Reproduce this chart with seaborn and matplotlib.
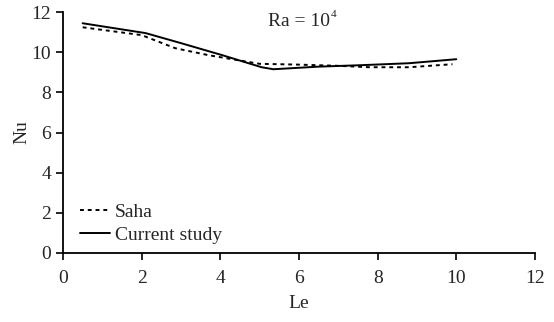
import numpy as np
import pandas as pd
import matplotlib
matplotlib.use("Agg")
import matplotlib.pyplot as plt
import seaborn as sns

# Nusselt number against Lewis number at Ra = 1e4
le_saha = [0.5, 2.0, 2.85, 3.7, 4.45, 5.0, 6.0, 7.0, 7.8, 8.8, 9.9]
nu_saha = [11.24, 10.85, 10.2, 9.85, 9.6, 9.42, 9.38, 9.32, 9.25, 9.25, 9.4]

le_curr = [0.5, 2.1, 3.0, 4.05, 5.05, 5.35, 6.5, 7.55, 8.8, 10.0]
nu_curr = [11.44, 10.95, 10.45, 9.85, 9.25, 9.15, 9.28, 9.35, 9.45, 9.65]

series_names = ["Saha", "Current study"]

df = pd.concat([
    pd.DataFrame({"Le": le_saha, "Nu": nu_saha, "series": series_names[0]}),
    pd.DataFrame({"Le": le_curr, "Nu": nu_curr, "series": series_names[1]}),
], ignore_index=True)

sns.set_theme(style="ticks")
plt.rcParams["font.family"] = ["Liberation Serif", "DejaVu Serif"]

fig = plt.figure(figsize=(5.54, 3.22), dpi=100)
ax = fig.add_axes([0.1137, 0.2143, 0.852, 0.7484])

sns.lineplot(
    data=df, x="Le", y="Nu", hue="series", style="series",
    palette={series_names[0]: "black", series_names[1]: "black"},
    dashes={series_names[0]: (2, 2), series_names[1]: ""},
    linewidth=1.4, sort=False, estimator=None, ax=ax,
)

ax.set_xlim(0, 12)
ax.set_ylim(0, 12)
ax.set_xticks(np.arange(0, 13, 2))
ax.set_yticks(np.arange(0, 13, 2))
ax.tick_params(axis="both", labelsize=14, length=5, width=1.2, direction="out", color="black")
ax.tick_params(axis="x", pad=7)
for s in ["top", "right"]:
    ax.spines[s].set_visible(False)
for s in ["left", "bottom"]:
    ax.spines[s].set_color("black")
    ax.spines[s].set_linewidth(1.3)

ax.set_xlabel("Le", fontsize=14, labelpad=6)
ax.set_ylabel("Nu", fontsize=14, labelpad=1)

ra = ax.text(5.2, 11.55, "Ra = 10", fontsize=14, ha="left", va="center")
fig.canvas.draw()
bb = ra.get_window_extent().transformed(ax.transData.inverted())
ax.text(bb.x1 + 0.03, 11.9, "4", fontsize=8, ha="left", va="center")

leg = ax.legend(
    loc="lower left", bbox_to_anchor=(0.02, 0.005), frameon=False, fontsize=14,
    handlelength=1.55, handletextpad=0.25, labelspacing=0.3, borderaxespad=0,
)
leg.set_title(None)

fig.savefig("out.png", dpi=100)
